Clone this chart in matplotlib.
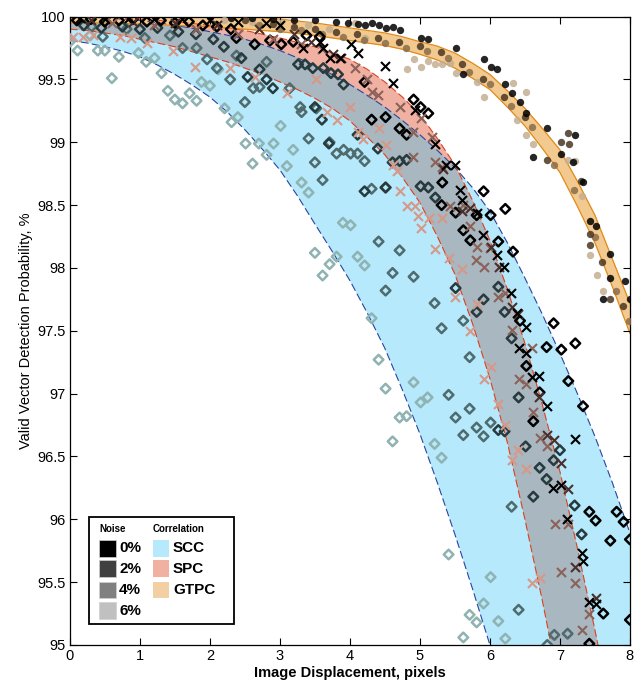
import numpy as np
import matplotlib
matplotlib.use("Agg")
import matplotlib.pyplot as plt
from matplotlib.patches import Rectangle

plt.rcParams['font.family'] = ['Liberation Sans', 'DejaVu Sans']

# --- band boundaries (x step 0.25) ---
band_x = [0, 0.25, 0.5, 0.75, 1, 1.25, 1.5, 1.75, 2, 2.25, 2.5, 2.75, 3, 3.25, 3.5, 3.75, 4,
          4.25, 4.5, 4.75, 5, 5.25, 5.5, 5.75, 6, 6.25, 6.5, 6.75, 7, 7.25, 7.5, 7.75, 8]
scc_lo = [99.81, 99.79, 99.76, 99.725, 99.68, 99.615, 99.54, 99.455, 99.36, 99.24, 99.10, 98.945, 98.78, 98.575, 98.35, 98.13, 97.90,
          97.64, 97.36, 97.03, 96.68, 96.29, 95.88, 95.45, 95.0, 94.51, 94.0, 93.46, 92.9, 92.31, 91.7, 91.06, 90.4]
scc_hi = [100.0, 99.997, 99.99, 99.98, 99.97, 99.952, 99.93, 99.907, 99.88, 99.852, 99.82, 99.778, 99.73, 99.672, 99.61, 99.538, 99.46,
          99.373, 99.28, 99.173, 99.06, 98.935, 98.80, 98.64, 98.45, 98.20, 97.92, 97.63, 97.32, 97.0, 96.66, 96.29, 95.89]
spc_lo = [99.90, 99.89, 99.87, 99.85, 99.82, 99.79, 99.76, 99.72, 99.68, 99.64, 99.59, 99.54, 99.48, 99.42, 99.35, 99.27, 99.17,
          99.04, 98.90, 98.72, 98.52, 98.25, 97.95, 97.56, 97.12, 96.61, 96.0, 95.35, 94.65, 93.95, 93.2, 92.4, 91.5]
spc_hi = [100.0, 100.0, 99.99, 99.985, 99.98, 99.97, 99.96, 99.945, 99.93, 99.91, 99.89, 99.86, 99.83, 99.795, 99.76, 99.71, 99.66,
          99.58, 99.48, 99.36, 99.22, 99.03, 98.82, 98.54, 98.22, 97.83, 97.40, 96.91, 96.38, 95.77, 95.12, 94.43, 93.7]
gtpc_lo = [99.95, 99.95, 99.95, 99.945, 99.94, 99.935, 99.93, 99.925, 99.92, 99.91, 99.90, 99.89, 99.88, 99.865, 99.85, 99.83, 99.81,
           99.79, 99.77, 99.74, 99.70, 99.655, 99.59, 99.51, 99.42, 99.28, 99.13, 98.95, 98.76, 98.49, 98.20, 97.85, 97.48]
gtpc_hi = [100.05, 100.05, 100.05, 100.045, 100.04, 100.035, 100.03, 100.025, 100.02, 100.01, 100.0, 99.99, 99.98, 99.965, 99.95, 99.93, 99.91,
           99.89, 99.87, 99.84, 99.80, 99.765, 99.71, 99.63, 99.54, 99.41, 99.27, 99.11, 98.94, 98.69, 98.42, 98.07, 97.72]

# --- SCC (diamonds) ---
scc6_x = [0.0, 0.11, 0.29, 0.4, 0.5, 0.6, 0.70, 0.98, 1.09, 1.21, 1.31, 1.40, 1.5, 1.61, 1.71, 1.81, 1.88, 2.0, 2.12, 2.21,
          2.31, 2.4, 2.51, 2.61, 2.7, 2.81, 2.91, 3.01, 3.10, 3.19, 3.31, 3.41, 3.5, 3.61, 3.71, 3.81, 3.9, 4.01, 4.11, 4.21,
          4.31, 4.41, 4.51, 4.61, 4.71, 4.81, 4.91, 5.01, 5.11, 5.21, 5.31, 5.41, 5.62, 5.71, 5.81, 5.91, 6.01, 6.12, 6.22]
scc6_y = [99.80, 99.73, 99.85, 99.73, 99.73, 99.51, 99.68, 99.71, 99.64, 99.67, 99.55, 99.41, 99.34, 99.31, 99.39, 99.33, 99.48, 99.45, 99.58, 99.27,
          99.16, 99.20, 98.99, 98.83, 98.99, 98.90, 98.99, 99.13, 98.81, 98.94, 98.68, 98.60, 98.12, 97.94, 98.03, 98.09, 98.36, 98.34, 98.09, 98.02,
          97.60, 97.27, 97.04, 96.62, 96.81, 96.82, 97.09, 96.93, 96.97, 96.60, 96.49, 95.72, 95.06, 95.24, 95.18, 95.33, 95.54, 95.19, 95.05]
scc4_x = [0.31, 0.47, 0.81, 1.07, 1.43, 1.61, 1.81, 1.96, 2.1, 2.29, 2.38, 2.5, 2.62, 2.71, 2.81, 3.14, 3.29, 3.31, 3.41, 3.5,
          3.52, 3.61, 3.71, 3.81, 3.91, 4.01, 4.11, 4.21, 4.31, 4.41, 4.51, 4.51, 4.61, 4.71, 4.91, 5.21, 5.31, 5.41, 5.51, 5.62,
          5.62, 5.71, 5.71, 5.81, 5.91, 6.01, 6.31, 6.41, 6.82, 6.92, 7.11]
scc4_y = [99.92, 99.84, 99.90, 99.83, 99.85, 99.75, 99.75, 99.66, 99.59, 99.50, 99.69, 99.32, 99.43, 99.44, 99.64, 99.43, 99.28, 99.24, 99.03, 98.84,
          99.27, 98.70, 99.0, 98.91, 98.94, 98.91, 98.91, 98.85, 98.63, 98.21, 98.64, 97.82, 97.96, 98.14, 97.93, 97.72, 97.52, 96.99, 96.81, 96.67,
          97.58, 97.29, 96.88, 96.73, 96.66, 96.77, 96.10, 95.28, 95.0, 95.08, 95.09]
scc2_x = [0.2, 0.45, 0.75, 1.0, 1.25, 1.55, 1.8, 2.05, 2.2, 2.45, 2.54, 2.71, 2.81, 2.9, 3.26, 3.36, 3.47, 3.62, 3.73, 3.83,
          3.91, 3.5, 3.6, 3.7, 4.11, 4.21, 4.4, 4.51, 4.61, 4.71, 4.81, 5.01, 5.12, 5.22, 5.51, 5.81, 5.91, 6.12, 6.21, 6.31,
          6.41, 6.12, 6.21, 6.51, 6.62, 6.71, 6.81, 6.91, 7.0, 7.21, 7.31]
scc2_y = [99.93, 99.91, 99.92, 99.90, 99.91, 99.88, 99.86, 99.82, 99.76, 99.67, 99.52, 99.58, 99.50, 99.43, 99.62, 99.62, 99.59, 99.59, 99.55, 99.54,
          99.46, 99.28, 99.18, 98.99, 99.06, 98.61, 98.95, 98.64, 98.84, 98.85, 98.86, 98.65, 98.64, 98.56, 97.84, 97.65, 97.75, 97.85, 97.65, 97.44,
          96.97, 96.71, 96.70, 96.58, 96.18, 96.41, 96.32, 96.47, 96.55, 96.11, 95.88]
scc0_x = [0.1, 0.3, 0.5, 0.7, 0.9, 1.1, 1.3, 1.5, 1.7, 1.9, 2.1, 2.3, 2.38, 2.64, 2.86, 3.02, 3.19, 3.38, 3.57, 4.21,
          4.31, 4.51, 4.71, 4.81, 4.91, 5.01, 5.12, 5.32, 5.31, 5.51, 5.62, 5.72, 5.81, 5.91, 6.01, 6.22, 6.12, 6.33, 6.43, 6.52,
          6.62, 6.71, 6.81, 6.91, 7.02, 7.12, 7.22, 7.33, 7.42, 7.51, 7.62, 7.72, 7.81, 7.91, 8.0, 8.0, 7.42]
scc0_y = [99.97, 99.98, 99.96, 99.97, 99.98, 99.96, 99.97, 99.95, 99.96, 99.93, 99.92, 99.90, 99.83, 99.78, 99.81, 99.78, 99.80, 99.85, 99.84, 99.48,
          99.18, 99.20, 99.11, 99.06, 99.34, 99.28, 99.23, 98.68, 98.50, 98.44, 98.30, 98.22, 98.42, 98.61, 98.42, 98.47, 98.21, 98.13, 97.58, 97.22,
          96.78, 97.01, 97.37, 97.56, 97.35, 97.10, 97.40, 96.90, 96.06, 95.99, 95.25, 95.83, 96.06, 95.98, 95.84, 95.20, 95.01]

# --- SPC (crosses) ---
spc6_x = [0.04, 0.19, 0.33, 0.71, 0.88, 1.1, 1.47, 1.79, 2.29, 2.64, 3.1, 3.52, 3.67, 3.81, 4.0, 4.11, 4.19, 4.42, 4.52, 4.62,
          4.67, 4.71, 4.81, 4.93, 4.97, 5.02, 5.13, 5.21, 5.31, 5.41, 5.5, 5.6, 5.71, 5.81, 5.91, 6.01, 6.12, 6.21, 6.31, 6.40,
          6.51, 6.6, 6.71]
spc6_y = [99.84, 99.84, 99.85, 99.84, 99.83, 99.79, 99.73, 99.60, 99.59, 99.52, 99.39, 99.50, 99.24, 99.18, 99.28, 99.08, 99.03, 99.11, 98.98, 98.82,
          98.77, 98.61, 98.49, 98.49, 98.41, 98.32, 98.40, 98.15, 98.40, 98.08, 97.77, 97.99, 97.50, 97.71, 97.12, 97.21, 96.92, 96.75, 96.47, 96.55,
          96.40, 95.49, 95.53]
spc4_x = [0.6, 1.2, 1.8, 2.4, 2.9, 3.3, 3.6, 4.07, 4.24, 4.31, 4.4, 4.71, 4.9, 4.9, 5.02, 5.17, 5.21, 5.31, 5.43, 5.61,
          5.71, 5.81, 5.8, 5.92, 6.0, 6.12, 6.21, 6.31, 6.41, 6.52, 6.6, 6.62, 6.72, 6.81, 6.93, 7.12, 7.01, 7.21, 7.31, 7.42]
spc4_y = [99.95, 99.93, 99.90, 99.86, 99.82, 99.78, 99.74, 99.59, 99.50, 99.40, 99.38, 99.28, 99.08, 98.88, 99.19, 99.04, 98.84, 98.80, 98.49, 98.50,
          98.33, 98.17, 98.06, 98.01, 98.16, 97.77, 97.80, 97.51, 97.12, 97.08, 97.36, 96.85, 96.65, 96.58, 95.96, 95.96, 95.58, 95.49, 95.12, 95.25]
spc2_x = [0.3, 0.9, 1.5, 2.1, 2.7, 3.2, 3.45, 3.76, 3.88, 5.33, 5.6, 5.71, 6.02, 6.13, 6.32, 6.4, 6.7, 6.81, 6.91, 7.02,
          7.12, 7.21, 7.51]
spc2_y = [99.97, 99.96, 99.95, 99.93, 99.90, 99.86, 99.80, 99.70, 99.67, 98.79, 98.45, 98.48, 98.17, 98.01, 97.69, 97.63, 96.97, 96.67, 96.63, 96.45,
          96.24, 95.62, 95.37]
spc0_x = [0.15, 0.5, 0.85, 1.2, 1.6, 2.0, 2.4, 2.8, 3.0, 3.33, 3.57, 3.62, 3.71, 3.86, 4.02, 4.12, 4.5, 4.62, 4.93, 5.21,
          5.38, 5.5, 5.57, 5.6, 5.82, 5.9, 6.1, 6.2, 6.3, 6.38, 6.51, 6.41, 6.51, 6.6, 6.7, 6.81, 7.21, 6.9, 7.02, 7.1,
          7.31, 7.33, 7.42, 7.52]
spc0_y = [99.99, 99.98, 99.99, 99.98, 99.98, 99.97, 99.96, 99.95, 99.93, 99.75, 99.80, 99.75, 99.67, 99.67, 99.78, 99.71, 99.61, 99.47, 99.26, 98.99,
          98.82, 98.82, 98.62, 98.54, 98.44, 98.26, 98.10, 98.01, 97.80, 97.64, 97.53, 97.36, 97.32, 97.13, 97.14, 96.90, 96.64, 96.25, 96.27, 96.0,
          95.73, 95.67, 95.34, 95.33]

# --- GTPC (dots) ---
gtpc6_x = [2.2, 2.6, 3.0, 3.4, 3.7, 4.07, 4.21, 4.81, 4.91, 5.01, 5.12, 5.21, 5.31, 5.43, 5.52, 5.81, 5.91, 6.33, 6.52, 6.38,
           6.52, 6.62, 7.12, 7.22, 7.31, 7.43, 7.53, 7.62]
gtpc6_y = [99.97, 99.96, 99.95, 99.93, 99.90, 99.95, 99.83, 99.58, 99.66, 99.60, 99.65, 99.62, 99.62, 99.63, 99.55, 99.48, 99.36, 99.47, 99.40, 99.18,
           99.06, 98.99, 98.86, 98.85, 98.57, 98.10, 97.94, 97.82]
gtpc4_x = [2.7, 3.0, 3.3, 3.6, 3.9, 4.2, 4.5, 4.8, 5.1, 5.4, 5.7, 6.0, 6.3, 6.6, 6.91, 7.2, 7.5, 7.8, 7.99]
gtpc4_y = [99.93, 99.90, 99.89, 99.86, 99.84, 99.81, 99.79, 99.75, 99.73, 99.67, 99.56, 99.46, 99.29, 99.12, 98.82, 98.62, 98.25, 97.82, 97.58]
gtpc2_x = [2.5, 2.9, 3.2, 3.5, 3.8, 4.1, 4.4, 4.7, 5.0, 5.3, 5.6, 5.9, 6.2, 6.5, 6.81, 7.02, 7.13, 7.12, 7.3, 7.43,
           7.43, 7.72, 7.6, 7.9]
gtpc2_y = [99.97, 99.94, 99.92, 99.90, 99.88, 99.86, 99.83, 99.80, 99.77, 99.72, 99.62, 99.50, 99.36, 99.20, 98.86, 99.0, 98.99, 99.07, 98.69, 98.27,
           98.18, 97.75, 98.05, 97.70]
gtpc0_x = [2.0, 2.3, 2.6, 2.9, 3.2, 3.5, 3.8, 3.98, 4.12, 4.21, 4.31, 4.41, 4.51, 4.62, 4.71, 5.02, 5.12, 5.52, 5.61, 5.91,
           6.02, 6.1, 6.21, 6.31, 6.43, 6.52, 6.61, 6.81, 7.22, 7.02, 7.19, 7.33, 7.43, 7.51, 7.71, 7.72, 7.93, 7.62, 8.0]
gtpc0_y = [100.0, 99.99, 99.99, 99.98, 99.97, 99.97, 99.96, 99.95, 99.94, 99.93, 99.95, 99.93, 99.91, 99.92, 99.89, 99.83, 99.82, 99.75, 99.54, 99.66,
           99.60, 99.58, 99.46, 99.39, 99.32, 99.23, 98.88, 99.11, 99.06, 98.91, 98.84, 98.68, 98.37, 98.33, 98.11, 97.92, 97.90, 97.75, 97.75]

noise_labels = ['0%', '2%', '4%', '6%']
noise_gray = ['#000000', '#404040', '#808080', '#c0c0c0']
corr_labels = ['SCC', 'SPC', 'GTPC']
corr_fill = ['#b5e9fb', '#f0b1a3', '#f3d0a3']

scc_cols = ['#000000', '#273b3e', '#4f6b6d', '#8fb3b2']
spc_cols = ['#000000', '#4a302c', '#8a625a', '#d69888']
gtpc_cols = ['#000000', '#4a3622', '#8a6c48', '#c4ae92']

bx = np.array(band_x)

fig = plt.figure(figsize=(6.35, 6.86), dpi=100)
ax = fig.add_axes([0.110, 0.0598, 0.882, 0.916])

# bands
ax.fill_between(bx, scc_lo, scc_hi, color=corr_fill[0], lw=0, zorder=1)
ax.fill_between(bx, spc_lo, spc_hi, color=corr_fill[1], lw=0, zorder=1.1)
ov_lo = np.maximum(scc_lo, spc_lo)
ov_hi = np.minimum(scc_hi, spc_hi)
ax.fill_between(bx, ov_lo, ov_hi, where=ov_hi > ov_lo, color='#a9b7c0', lw=0, zorder=1.2)
ax.fill_between(bx, gtpc_lo, gtpc_hi, color='#f2c98f', lw=0, zorder=1.3)
for c in (scc_lo, scc_hi):
    ax.plot(bx, c, color='#2a44a0', lw=0.8, ls=(0, (7, 3)), zorder=1.5)
for c in (spc_lo, spc_hi):
    ax.plot(bx, c, color='#e0401c', lw=0.8, ls=(0, (7, 3)), zorder=1.5)
for c in (gtpc_lo, gtpc_hi):
    ax.plot(bx, c, color='#e08a18', lw=0.9, zorder=1.5)

# markers, lightest first
scc_sets = [(scc0_x, scc0_y), (scc2_x, scc2_y), (scc4_x, scc4_y), (scc6_x, scc6_y)]
spc_sets = [(spc0_x, spc0_y), (spc2_x, spc2_y), (spc4_x, spc4_y), (spc6_x, spc6_y)]
gtpc_sets = [(gtpc0_x, gtpc0_y), (gtpc2_x, gtpc2_y), (gtpc4_x, gtpc4_y), (gtpc6_x, gtpc6_y)]
for i in [3, 2, 1, 0]:
    xs, ys = gtpc_sets[i]
    ax.scatter(xs, ys, s=28, marker='o', color=gtpc_cols[i], alpha=0.85, lw=0, zorder=3)
for i in [3, 2, 1, 0]:
    xs, ys = scc_sets[i]
    ax.scatter(xs, ys, s=24, marker='D', facecolors='none', edgecolors=scc_cols[i], linewidths=1.8, zorder=4)
for i in [3, 2, 1, 0]:
    xs, ys = spc_sets[i]
    ax.scatter(xs, ys, s=42, marker='x', color=spc_cols[i], linewidths=1.5, zorder=5)

ax.set_xlim(0, 8)
ax.set_ylim(95, 100)
ax.set_xticks(range(0, 9))
ax.set_yticks([95, 95.5, 96, 96.5, 97, 97.5, 98, 98.5, 99, 99.5, 100])
ax.set_yticklabels(['95', '95.5', '96', '96.5', '97', '97.5', '98', '98.5', '99', '99.5', '100'])
ax.tick_params(direction='in', top=True, right=True, length=5, width=0.8, labelsize=10.5, pad=3)
for s in ax.spines.values():
    s.set_linewidth(0.9)
ax.set_xlabel('Image Displacement, pixels', fontsize=10.5, fontweight='bold', labelpad=2)
ax.set_ylabel('Valid Vector Detection Probability, %', fontsize=10.5, labelpad=3)

# legend drawn by hand in axes coords
T = ax.transAxes
ax.add_patch(Rectangle((0.034, 0.0334), 0.259, 0.171, transform=T, facecolor='white',
                       edgecolor='black', lw=1.3, zorder=10))
ax.text(0.0536, 0.184, 'Noise', transform=T, fontsize=7, fontweight='bold', va='center', zorder=11)
ax.text(0.148, 0.184, 'Correlation', transform=T, fontsize=7, fontweight='bold', va='center', zorder=11)
rows = [0.154, 0.121, 0.0875, 0.0543]
sw, sh = 0.0298, 0.027
for r, lab, col in zip(rows, noise_labels, noise_gray):
    ax.add_patch(Rectangle((0.0525, r - sh / 2), sw, sh, transform=T, facecolor=col,
                           edgecolor='#d0d0d0', lw=0.5, zorder=11))
    ax.text(0.088, r, lab, transform=T, fontsize=11, fontweight='bold', va='center', zorder=11)
for r, lab, col in zip(rows[:3], corr_labels, corr_fill):
    ax.add_patch(Rectangle((0.148, r - sh / 2), sw, sh, transform=T, facecolor=col,
                           edgecolor='none', zorder=11))
    ax.text(0.184, r, lab, transform=T, fontsize=11, fontweight='bold', va='center', zorder=11)

fig.savefig('out.png', dpi=100)
